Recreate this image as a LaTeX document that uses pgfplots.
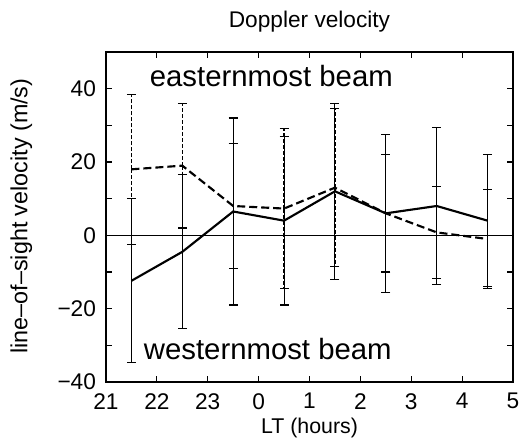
\documentclass[border=0pt]{standalone}
\usepackage{fontspec}
\setmainfont{Liberation Sans}
\usepackage{pgfplots}
\usepackage{pgfplotstable}
\pgfplotsset{compat=1.18}
\pgfplotstableread{
x y e
21.5 -12.4 22.4
22.5 -4.5 21
23.5 6.5 25.5
24.5 4.0 23
25.5 12.0 24
26.5 6.0 21.5
27.5 8.0 21.5
28.5 4.0 18
}\west
\pgfplotstableread{
x y e
21.5 18.0 20.5
22.5 19.0 17
23.5 8.0 17
24.5 7.3 21.8
25.5 13.0 21.5
26.5 6.0 16
27.5 0.8 12.5
28.5 -1.0 13.5
}\east
\begin{document}
\begin{tikzpicture}
\begin{axis}[
  scale only axis, width=305.25pt, height=247.5pt,
  xmin=21, xmax=29, ymin=-40, ymax=50,
  xtick={21,...,29}, xticklabels={21,22,23,0,1,2,3,4,5},
  ytick={-40,-20,0,20,40}, yticklabels={−40,−20,0,20,40},
  minor ytick={-30,-10,10,30},
  tick align=inside, major tick length=4.5pt, minor tick length=4.5pt,
  every tick/.style={line width=0.9pt, black},
  axis line style={line width=1.2pt},
  ticklabel style={font=\fontsize{17}{20}\selectfont},
  xticklabel style={yshift=-5pt},
  yticklabel style={xshift=-4pt},
  every axis title/.style={at={(axis description cs:0.5,1.092)}, anchor=center},
  every axis x label/.style={font=\fontsize{16}{19}\selectfont, at={(axis description cs:0.5,-0.140)}, anchor=center},
  every axis y label/.style={font=\fontsize{17.5}{20}\selectfont, at={(axis description cs:-0.208,0.503)}, anchor=center, rotate=90},
  title={\fontsize{17}{20}\selectfont Doppler velocity},
  xlabel={LT (hours)},
  ylabel={line–of–sight velocity (m/s)},
  clip=false,
]
\addplot[black, line width=0.6pt, forget plot] coordinates {(21,0) (29,0)};
\addplot[black, line width=1.6pt, no markers,
  error bars/.cd, y dir=both, y explicit,
  error bar style={line width=0.8pt, solid},
  error mark options={line width=0.8pt, mark size=3.4pt, solid, rotate=90}]
  table[x=x, y=y, y error=e] {\west};
\addplot[black, line width=1.6pt, no markers, dash pattern=on 6pt off 3pt,
  error bars/.cd, y dir=both, y explicit,
  error bar style={line width=0.9pt, dash pattern=on 3pt off 1.5pt},
  error mark options={line width=0.8pt, mark size=3.4pt, solid, rotate=90}]
  table[x=x, y=y, y error=e] {\east};
\node at (axis cs:24.25,43.4) {\fontsize{22}{26}\selectfont easternmost beam};
\node at (axis cs:24.18,-30.9) {\fontsize{22}{26}\selectfont westernmost beam};
\end{axis}
\pgfresetboundingbox
\path ([shift={(-79.5pt,-46.5pt)}]current axis.south west) rectangle ([shift={(5.25pt,39pt)}]current axis.north east);
\end{tikzpicture}
\end{document}
